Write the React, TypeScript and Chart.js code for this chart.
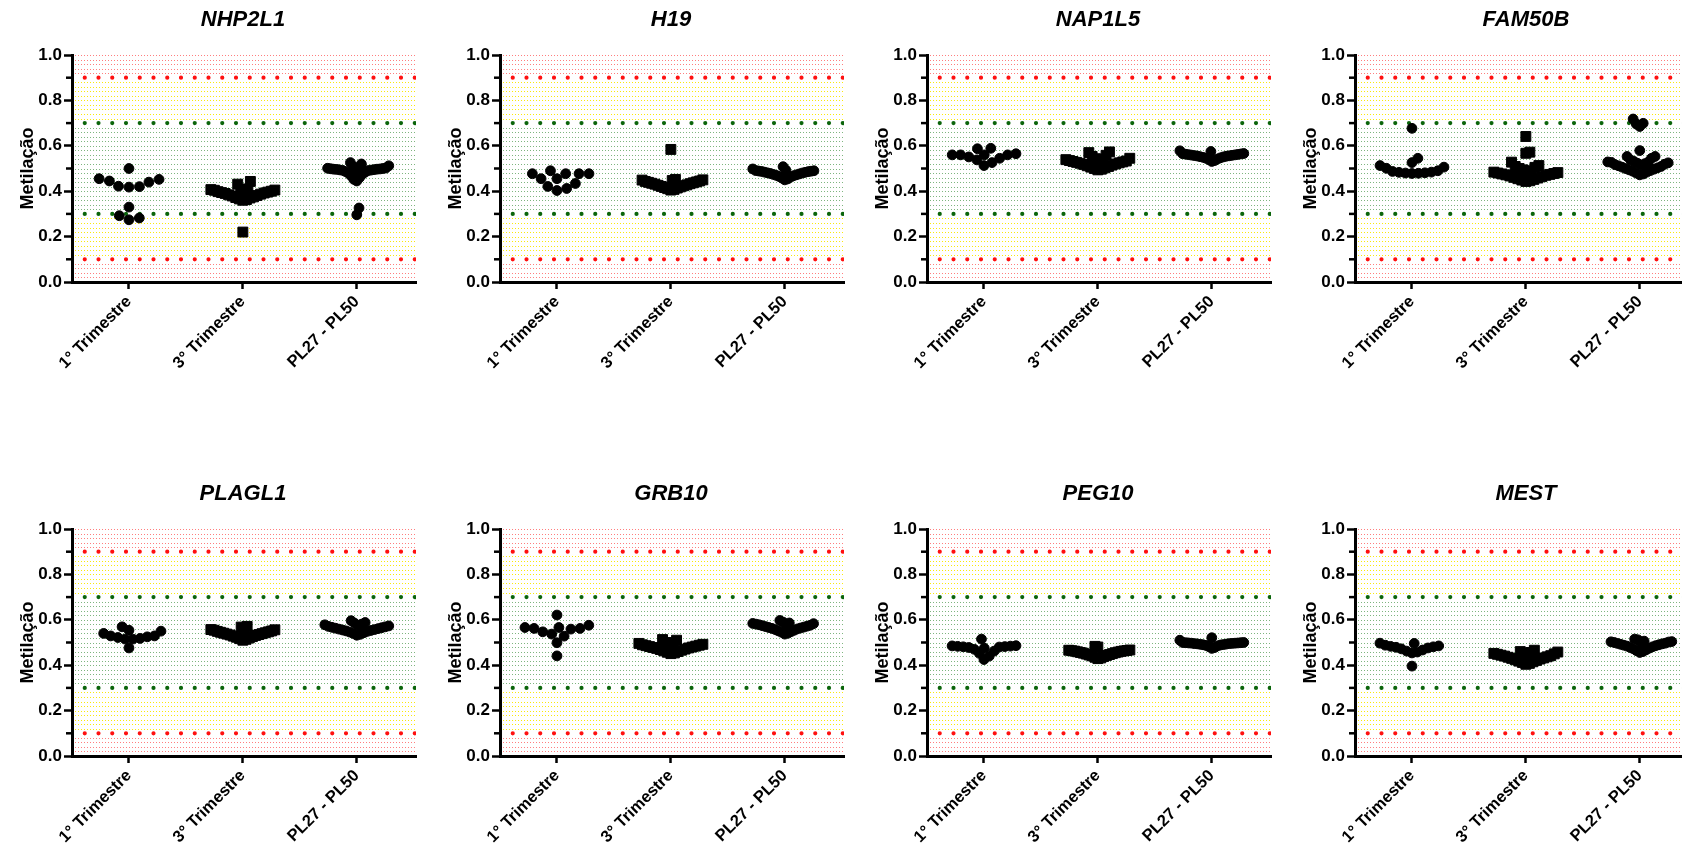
import React, { useEffect, useRef } from "react";
import { Chart, registerables } from "chart.js";

Chart.register(...registerables);

// ---- data ----
const groupLabels = ["1° Trimestre", "3° Trimestre", "PL27 - PL50"];
const yTickValues = [0, 0.2, 0.4, 0.6, 0.8, 1.0];
const yMinorTicks = [0.1, 0.3, 0.5, 0.7, 0.9];
const redLines = [0.1, 0.9];
const greenLines = [0.3, 0.7];
const redZones = [[0, 0.1], [0.9, 1.0]];
const yellowZones = [[0.1, 0.3], [0.7, 0.9]];
const greenZones = [[0.3, 0.7]];

const nhp2l1T1 = [0.5, 0.455, 0.452, 0.445, 0.44, 0.42, 0.418, 0.422, 0.33, 0.292, 0.282, 0.274];
const nhp2l1T3 = [0.22, 0.36, 0.363, 0.366, 0.37, 0.372, 0.375, 0.379, 0.381, 0.384, 0.387, 0.39, 0.392, 0.394, 0.396, 0.398, 0.4, 0.402, 0.404, 0.405, 0.407, 0.408, 0.41, 0.431, 0.443];
const nhp2l1PL = [0.296, 0.326, 0.445, 0.452, 0.46, 0.468, 0.475, 0.48, 0.484, 0.487, 0.489, 0.491, 0.492, 0.493, 0.494, 0.495, 0.496, 0.497, 0.497, 0.498, 0.499, 0.5, 0.501, 0.502, 0.505, 0.508, 0.512, 0.52, 0.526];

const h19T1 = [0.49, 0.455, 0.477, 0.421, 0.477, 0.403, 0.477, 0.412, 0.434, 0.477, 0.455];
const h19T3 = [0.405, 0.408, 0.411, 0.414, 0.416, 0.419, 0.421, 0.424, 0.426, 0.428, 0.431, 0.433, 0.435, 0.437, 0.439, 0.441, 0.443, 0.445, 0.447, 0.449, 0.45, 0.452, 0.584];
const h19PL = [0.45, 0.454, 0.458, 0.462, 0.465, 0.468, 0.47, 0.472, 0.474, 0.476, 0.478, 0.48, 0.481, 0.483, 0.484, 0.486, 0.487, 0.488, 0.489, 0.49, 0.491, 0.493, 0.498, 0.508];

const nap1l5T1 = [0.56, 0.551, 0.589, 0.56, 0.513, 0.526, 0.545, 0.56, 0.587, 0.565, 0.56, 0.538];
const nap1l5T3 = [0.494, 0.497, 0.5, 0.503, 0.506, 0.509, 0.512, 0.515, 0.518, 0.52, 0.523, 0.525, 0.527, 0.529, 0.531, 0.533, 0.535, 0.537, 0.539, 0.541, 0.543, 0.545, 0.553, 0.558, 0.57, 0.573];
const nap1l5PL = [0.531, 0.535, 0.539, 0.542, 0.545, 0.547, 0.549, 0.551, 0.552, 0.554, 0.555, 0.556, 0.557, 0.558, 0.559, 0.56, 0.561, 0.562, 0.563, 0.564, 0.565, 0.566, 0.575, 0.578];

const fam50bT1 = [0.677, 0.545, 0.526, 0.513, 0.506, 0.501, 0.49, 0.487, 0.484, 0.481, 0.479, 0.478, 0.48, 0.483];
const fam50bT3 = [0.443, 0.446, 0.449, 0.452, 0.455, 0.458, 0.461, 0.464, 0.467, 0.47, 0.472, 0.474, 0.476, 0.478, 0.48, 0.482, 0.484, 0.487, 0.49, 0.494, 0.5, 0.505, 0.509, 0.513, 0.528, 0.567, 0.572, 0.641];
const fam50bPL = [0.472, 0.476, 0.48, 0.484, 0.488, 0.491, 0.494, 0.497, 0.5, 0.503, 0.506, 0.509, 0.512, 0.515, 0.517, 0.519, 0.521, 0.523, 0.525, 0.527, 0.529, 0.531, 0.528, 0.538, 0.545, 0.553, 0.553, 0.579, 0.685, 0.696, 0.699, 0.718];

const plagl1T1 = [0.529, 0.518, 0.569, 0.515, 0.55, 0.476, 0.515, 0.54, 0.522, 0.554, 0.525, 0.529];
const plagl1T3 = [0.51, 0.514, 0.517, 0.52, 0.523, 0.526, 0.528, 0.531, 0.533, 0.535, 0.537, 0.539, 0.541, 0.543, 0.545, 0.547, 0.549, 0.551, 0.552, 0.554, 0.556, 0.557, 0.568, 0.571];
const plagl1PL = [0.532, 0.536, 0.54, 0.543, 0.546, 0.549, 0.551, 0.553, 0.555, 0.557, 0.559, 0.561, 0.563, 0.565, 0.567, 0.569, 0.571, 0.573, 0.575, 0.578, 0.581, 0.585, 0.588, 0.596];

const grb10T1 = [0.566, 0.566, 0.559, 0.537, 0.621, 0.528, 0.441, 0.499, 0.547, 0.562, 0.562, 0.576];
const grb10T3 = [0.451, 0.454, 0.457, 0.46, 0.463, 0.466, 0.469, 0.471, 0.474, 0.476, 0.478, 0.48, 0.482, 0.484, 0.486, 0.488, 0.49, 0.492, 0.494, 0.496, 0.498, 0.5, 0.51, 0.513];
const grb10PL = [0.537, 0.541, 0.545, 0.548, 0.551, 0.554, 0.557, 0.56, 0.562, 0.564, 0.566, 0.568, 0.57, 0.572, 0.574, 0.576, 0.578, 0.579, 0.581, 0.583, 0.584, 0.586, 0.59, 0.597];

const peg10T1 = [0.425, 0.44, 0.452, 0.462, 0.47, 0.475, 0.478, 0.48, 0.481, 0.482, 0.483, 0.484, 0.485, 0.486, 0.515];
const peg10T3 = [0.429, 0.432, 0.435, 0.438, 0.441, 0.443, 0.445, 0.447, 0.449, 0.451, 0.453, 0.455, 0.456, 0.458, 0.459, 0.461, 0.462, 0.463, 0.464, 0.465, 0.466, 0.467, 0.48, 0.483];
const peg10PL = [0.474, 0.478, 0.482, 0.485, 0.487, 0.489, 0.49, 0.491, 0.492, 0.493, 0.494, 0.495, 0.495, 0.496, 0.497, 0.497, 0.498, 0.498, 0.499, 0.499, 0.5, 0.5, 0.51, 0.521];

const mestT1 = [0.396, 0.454, 0.458, 0.462, 0.467, 0.472, 0.476, 0.479, 0.481, 0.483, 0.485, 0.488, 0.496, 0.497];
const mestT3 = [0.404, 0.408, 0.412, 0.415, 0.418, 0.421, 0.424, 0.427, 0.43, 0.432, 0.435, 0.437, 0.44, 0.442, 0.444, 0.446, 0.448, 0.45, 0.452, 0.454, 0.456, 0.458, 0.46, 0.466];
const mestPL = [0.456, 0.46, 0.464, 0.468, 0.472, 0.475, 0.478, 0.481, 0.484, 0.486, 0.488, 0.49, 0.492, 0.494, 0.496, 0.497, 0.499, 0.5, 0.502, 0.503, 0.504, 0.506, 0.512, 0.515];

const genes = ["NHP2L1", "H19", "NAP1L5", "FAM50B", "PLAGL1", "GRB10", "PEG10", "MEST"];
const geneGroups = [
  [nhp2l1T1, nhp2l1T3, nhp2l1PL],
  [h19T1, h19T3, h19PL],
  [nap1l5T1, nap1l5T3, nap1l5PL],
  [fam50bT1, fam50bT3, fam50bPL],
  [plagl1T1, plagl1T3, plagl1PL],
  [grb10T1, grb10T3, grb10PL],
  [peg10T1, peg10T3, peg10PL],
  [mestT1, mestT3, mestPL],
];

// ---- layout constants ----
const FONT = '"Liberation Sans", Arial, Helvetica, sans-serif';
const PANEL_W = 428;
const PANEL_H = 474;
const COL_PITCH = 427.7;
const SYMBOL = 10.5; // symbol diameter in px, used for the scatter spreading
const MAX_HALF = 32; // max horizontal spread of a group from its centre, px

// Beeswarm-style horizontal spreading: values sorted ascending, each placed at the
// free position closest to the group centre. `s` is the horizontal spacing.
function swarmOffsets(ys: number[], d: number, s: number): number[] {
  const order = ys.map((_, i) => i).sort((a, b) => ys[b] - ys[a]);
  const placed: { x: number; y: number }[] = [];
  const out = new Array(ys.length).fill(0);
  let side = 1;
  for (const i of order) {
    const y = ys[i];
    const near = placed.filter((p) => Math.abs(p.y - y) < d);
    const req = (p: { x: number; y: number }) => s * Math.sqrt(1 - ((p.y - y) / d) ** 2);
    const cands = [0];
    near.forEach((p) => {
      const w = req(p);
      cands.push(p.x + w, p.x - w);
    });
    const ok = cands.filter((c) => near.every((p) => Math.abs(c - p.x) >= req(p) - 1e-6));
    ok.sort((a, b) => Math.abs(a) - Math.abs(b));
    let best = ok[0];
    if (Math.abs(best) > 1e-6) {
      const tie = ok.find((c) => Math.abs(Math.abs(c) - Math.abs(best)) < 0.6 && Math.sign(c) === side);
      if (tie !== undefined) best = tie;
      side = -Math.sign(best);
    }
    placed.push({ x: best, y });
    out[i] = best;
  }
  return out;
}

function spreadGroup(ys: number[]): number[] {
  const maxAbs = (o: number[]) => o.reduce((m, v) => Math.max(m, Math.abs(v)), 0);
  const full = swarmOffsets(ys, SYMBOL, SYMBOL);
  if (maxAbs(full) <= MAX_HALF) return full;
  let lo = 0.3;
  let hi = SYMBOL;
  let best = swarmOffsets(ys, SYMBOL, lo);
  for (let it = 0; it < 22; it++) {
    const mid = (lo + hi) / 2;
    const o = swarmOffsets(ys, SYMBOL, mid);
    if (maxAbs(o) <= MAX_HALF) {
      lo = mid;
      best = o;
    } else {
      hi = mid;
    }
  }
  return best;
}

const swarmPlugin = {
  id: "swarmSpread",
  afterDatasetsUpdate(chart: any) {
    const xs = chart.scales.x;
    chart.data.datasets.forEach((_: any, k: number) => {
      const els = chart.getDatasetMeta(k).data;
      const cx = xs.getPixelForValue(k);
      const off = spreadGroup(els.map((e: any) => e.y));
      els.forEach((e: any, i: number) => {
        e.x = cx + off[i];
      });
    });
  },
};

const zonePlugin = {
  id: "zones",
  beforeDraw(chart: any) {
    const { ctx, chartArea: a, scales } = chart;
    const y = scales.y;
    ctx.save();
    ctx.beginPath();
    ctx.rect(a.left, a.top, a.right - a.left, a.bottom - a.top);
    ctx.clip();
    const lineVals = [...redLines, ...greenLines];
    const drawZone = (lo: number, hi: number, color: string) => {
      ctx.strokeStyle = color;
      ctx.lineWidth = 1;
      ctx.setLineDash([1, 2]);
      for (let k = 0; k <= Math.round((hi - lo) / 0.02); k++) {
        const v = lo + k * 0.02;
        if (lineVals.some((t) => Math.abs(t - v) < 1e-6)) continue;
        const py = Math.round(y.getPixelForValue(v)) + 0.5;
        ctx.beginPath();
        ctx.moveTo(a.left, py);
        ctx.lineTo(a.right, py);
        ctx.stroke();
      }
    };
    redZones.forEach(([lo, hi]) => drawZone(lo, hi, "rgba(255,40,40,0.6)"));
    yellowZones.forEach(([lo, hi]) => drawZone(lo, hi, "rgba(250,232,0,0.95)"));
    greenZones.forEach(([lo, hi]) => drawZone(lo, hi, "rgba(20,120,20,0.55)"));
    const bigDots = (vals: number[], color: string) => {
      ctx.strokeStyle = color;
      ctx.lineWidth = 4.2;
      ctx.lineCap = "round";
      ctx.setLineDash([0, 13.75]);
      vals.forEach((v) => {
        const py = y.getPixelForValue(v);
        ctx.beginPath();
        ctx.moveTo(a.left - 1, py);
        ctx.lineTo(a.right + 10, py);
        ctx.stroke();
      });
    };
    bigDots(redLines, "#ff1010");
    bigDots(greenLines, "#0b650b");
    ctx.restore();
  },
};

function makeDecor(title: string) {
  return {
    id: "decor",
    afterDraw(chart: any) {
      const { ctx, chartArea: a, scales } = chart;
      const y = scales.y;
      ctx.save();
      ctx.strokeStyle = "#000";
      ctx.lineWidth = 2.5;
      ctx.setLineDash([]);
      yMinorTicks.forEach((v) => {
        const py = y.getPixelForValue(v);
        ctx.beginPath();
        ctx.moveTo(a.left - 6, py);
        ctx.lineTo(a.left, py);
        ctx.stroke();
      });
      ctx.fillStyle = "#000";
      ctx.font = `italic bold 22px ${FONT}`;
      ctx.textAlign = "center";
      ctx.textBaseline = "middle";
      ctx.fillText(title, (a.left + a.right) / 2 - 1, a.top - 35.5);
      ctx.restore();
    },
  };
}

function Panel({ gene, groups, left, top }: { gene: string; groups: number[][]; left: number; top: number }) {
  const ref = useRef<HTMLCanvasElement>(null);
  useEffect(() => {
    const chart = new Chart(ref.current as HTMLCanvasElement, {
      type: "scatter",
      data: {
        datasets: groups.map((vals, k) => ({
          data: vals.map((v) => ({ x: k, y: v })),
          pointStyle: k === 1 ? "rect" : "circle",
          pointRadius: k === 1 ? 7 : 4.9,
          pointHoverRadius: k === 1 ? 7 : 4.9,
          backgroundColor: "#000",
          borderColor: "#000",
          borderWidth: 1,
        })),
      },
      options: {
        animation: false,
        responsive: false,
        events: [],
        layout: { padding: { top: 55, right: 12, left: 0, bottom: 0 } },
        plugins: { legend: { display: false }, tooltip: { enabled: false }, title: { display: false } },
        scales: {
          x: {
            type: "linear",
            min: -0.5,
            max: 2.52,
            afterBuildTicks: (s: any) => {
              s.ticks = groupLabels.map((_, i) => ({ value: i }));
            },
            afterFit: (s: any) => {
              s.height = PANEL_H - 282;
            },
            grid: { drawOnChartArea: false, drawTicks: true, tickLength: 7, tickWidth: 2.5, tickColor: "#000" },
            border: { display: true, color: "#000", width: 3 },
            ticks: {
              autoSkip: false,
              minRotation: 45,
              maxRotation: 45,
              padding: 3,
              color: "#000",
              font: { family: FONT, size: 16.5, weight: "bold" },
              callback: (v: any) => groupLabels[Math.round(Number(v))] ?? "",
            },
          },
          y: {
            type: "linear",
            min: 0,
            max: 1,
            afterBuildTicks: (s: any) => {
              s.ticks = yTickValues.map((v) => ({ value: v }));
            },
            afterFit: (s: any) => {
              s.width = 72;
            },
            grid: { drawOnChartArea: false, drawTicks: true, tickLength: 8, tickWidth: 2.5, tickColor: "#000" },
            border: { display: true, color: "#000", width: 3 },
            ticks: {
              padding: 2,
              color: "#000",
              font: { family: FONT, size: 17, weight: "bold" },
              callback: (v: any) => Number(v).toFixed(1),
            },
            title: {
              display: true,
              text: "Metilação",
              color: "#000",
              font: { family: FONT, size: 18, weight: "bold" },
              padding: { top: 17, bottom: 0 },
            },
          },
        },
      } as any,
      plugins: [zonePlugin, swarmPlugin, makeDecor(gene)],
    });
    return () => chart.destroy();
  }, [gene, groups]);
  return (
    <canvas
      ref={ref}
      width={PANEL_W}
      height={PANEL_H}
      style={{ position: "absolute", left, top, width: PANEL_W, height: PANEL_H }}
    />
  );
}

export default function App() {
  return (
    <div
      style={{
        position: "absolute",
        left: 0,
        top: 0,
        width: 1682,
        height: 849,
        overflow: "hidden",
        background: "#fff",
      }}
    >
      {genes.map((g, i) => (
        <Panel
          key={g}
          gene={g}
          groups={geneGroups[i]}
          left={Math.round((i % 4) * COL_PITCH)}
          top={Math.floor(i / 4) * PANEL_H}
        />
      ))}
    </div>
  );
}
